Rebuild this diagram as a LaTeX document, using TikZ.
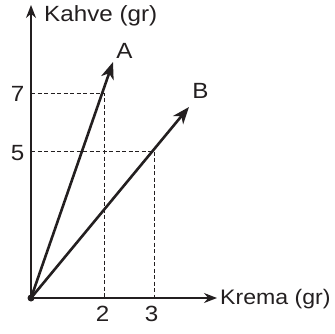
\documentclass[tikz,border=0pt]{standalone}
\usepackage{fontspec}
\setmainfont{Liberation Sans}[FakeStretch=1.1]
\usetikzlibrary{arrows.meta}
\definecolor{ink}{HTML}{231F20}
\begin{document}
\begin{tikzpicture}[x=1pt,y=-1pt,
  lbl/.style={inner sep=0pt, text=ink, font=\fontsize{22}{26}\selectfont},
  axis/.style={draw=ink, line width=1.4pt, -{Stealth[length=13pt,width=10pt]}},
  vec/.style={draw=ink, line width=2.6pt, -{Stealth[length=17pt,width=13pt,inset=5pt]}},
  guide/.style={draw=ink, line width=0.9pt, dash pattern=on 4pt off 2.5pt}]
\useasboundingbox (0,0) rectangle (335,333);
\coordinate (O) at (31,298);
\coordinate (Xend) at (217,298);
\coordinate (Yend) at (31,5);
\coordinate (P7) at (104,93);
\coordinate (P5) at (154,151);
\coordinate (TA) at (113,62);
\coordinate (TB) at (189,107);
% guides
\draw[guide] (O |- P7) -- (P7) -- (P7 |- O);
\draw[guide] (O |- P5) -- (P5) -- (P5 |- O);
% axes
\draw[axis] (O) -- (Xend);
\draw[axis] (O) -- (Yend);
% vectors
\draw[vec] (O) -- (TA);
\draw[vec] (O) -- (TB);
\fill[ink] (O) circle (3.5);
% labels
\node[lbl, anchor=west, font=\fontsize{21}{25}\selectfont] (xl) at (220,299) {Krema (gr)};
\node[lbl, anchor=west] (yl) at (44,16) {Kahve (gr)};
\node[lbl] (l7) at (17.5,93.5) {7};
\node[lbl] (l5) at (17.5,153) {5};
\node[lbl] (l2) at (102.5,313.5) {2};
\node[lbl] (l3) at (151.5,313.5) {3};
\node[lbl] (la) at (124.5,50.5) {A};
\node[lbl] (lb) at (200.5,91) {B};
\end{tikzpicture}
\end{document}
